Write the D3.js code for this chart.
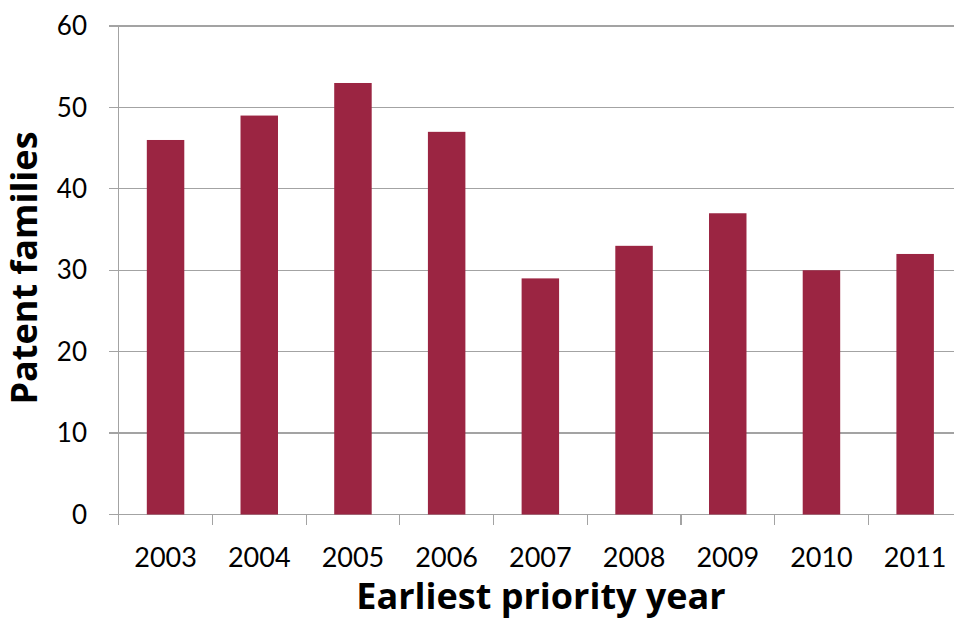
<!DOCTYPE html>
<html>
<head>
<meta charset="utf-8">
<script src="https://cdn.jsdelivr.net/npm/d3@7"></script>
<style>
  html, body { margin: 0; padding: 0; background: #fff; }
  svg { display: block; }
</style>
</head>
<body>
<svg id="chart" width="954" height="630"></svg>
<script>
// Patent families by earliest priority year
const years = ["2003", "2004", "2005", "2006", "2007", "2008", "2009", "2010", "2011"];
const families = [46, 49, 53, 47, 29, 33, 37, 30, 32];
const yTicks = [0, 10, 20, 30, 40, 50, 60];

const svg = d3.select("#chart");
const plot = { left: 118.7, right: 962, top: 26, bottom: 514.5 };
const font = "Lato, 'Open Sans', sans-serif";
const titleFont = "'Open Sans', Lato, sans-serif";
const gridColor = "#a3a3a3";
const barColor = "#9b2542";

const x = d3.scaleBand().domain(years).range([plot.left, plot.right]);
const y = d3.scaleLinear().domain([0, 60]).range([plot.bottom, plot.top]);

// horizontal gridlines (also serve as y-axis ticks)
svg.append("g").selectAll("line").data(yTicks).join("line")
  .attr("x1", plot.left - 10).attr("x2", plot.right)
  .attr("y1", d => y(d)).attr("y2", d => y(d))
  .attr("stroke", gridColor).attr("stroke-width", 1.2)
  .attr("shape-rendering", "crispEdges");

// y axis line
svg.append("line")
  .attr("x1", plot.left).attr("x2", plot.left)
  .attr("y1", plot.top).attr("y2", plot.bottom + 10)
  .attr("stroke", gridColor).attr("stroke-width", 1.2)
  .attr("shape-rendering", "crispEdges");

// category boundary ticks below the baseline
const boundaries = years.map(d => x(d)).slice(1);
svg.append("g").selectAll("line").data(boundaries).join("line")
  .attr("x1", d => d).attr("x2", d => d)
  .attr("y1", plot.bottom).attr("y2", plot.bottom + 10)
  .attr("stroke", gridColor).attr("stroke-width", 1.2)
  .attr("shape-rendering", "crispEdges");

// bars
const barW = x.bandwidth() * 0.4;
svg.append("g").selectAll("rect").data(years).join("rect")
  .attr("x", (d) => x(d) + (x.bandwidth() - barW) / 2)
  .attr("width", barW)
  .attr("y", (d, i) => y(families[i]))
  .attr("height", (d, i) => y(0) - y(families[i]))
  .attr("fill", barColor);

// y tick labels
svg.append("g").selectAll("text").data(yTicks).join("text")
  .attr("x", 87).attr("y", d => y(d))
  .attr("dy", "0.35em")
  .attr("text-anchor", "end")
  .attr("font-family", font).attr("font-size", 26)
  .attr("fill", "#000")
  .text(d => d);

// x tick labels
svg.append("g").selectAll("text").data(years).join("text")
  .attr("x", d => x(d) + x.bandwidth() / 2).attr("y", 567)
  .attr("text-anchor", "middle")
  .attr("font-family", font).attr("font-size", 27)
  .attr("fill", "#000")
  .text(d => d);

// axis titles
svg.append("text")
  .attr("x", 541).attr("y", 609)
  .attr("text-anchor", "middle")
  .attr("font-family", titleFont).attr("font-size", 36).attr("font-weight", "bold")
  .attr("fill", "#000")
  .text("Earliest priority year");

svg.append("text")
  .attr("transform", "translate(37,268) rotate(-90)")
  .attr("text-anchor", "middle")
  .attr("font-family", titleFont).attr("font-size", 36).attr("font-weight", "bold")
  .attr("fill", "#000")
  .text("Patent families");
</script>
</body>
</html>
